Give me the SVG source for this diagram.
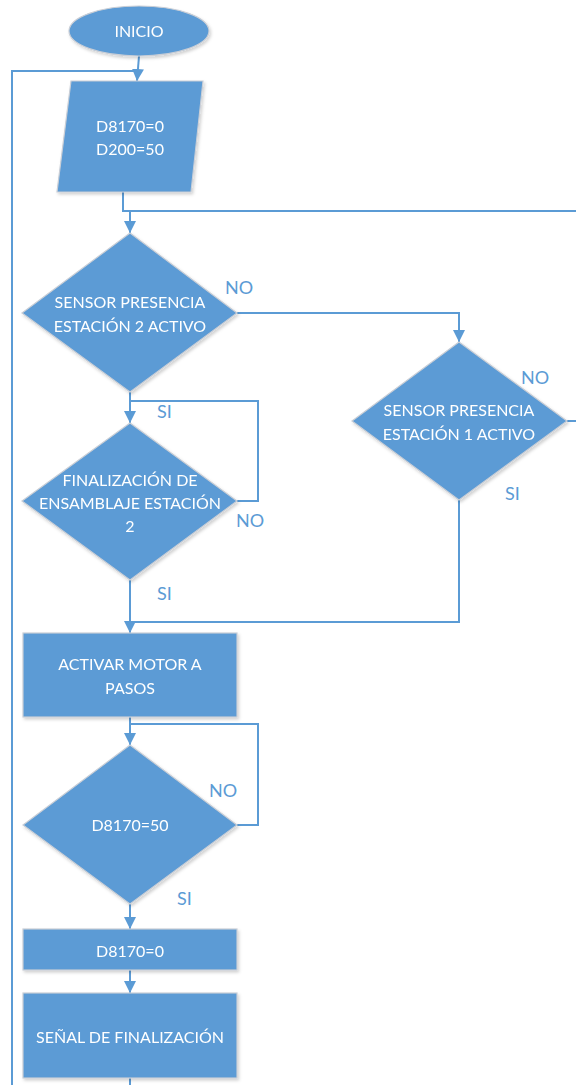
<svg xmlns="http://www.w3.org/2000/svg" width="576" height="1085" viewBox="0 0 576 1085">
<defs>
<style>
.n{fill:#5B9BD5;stroke:#C9CED6;stroke-width:1.2}
.t{fill:#FFFFFF;font-family:Lato,"Open Sans",sans-serif;font-size:16px;text-anchor:middle}
.l{fill:#5B9BD5;font-family:Lato,"Open Sans",sans-serif;font-size:18px}
.c{fill:none;stroke:#5B9BD5;stroke-width:2}
</style>
<marker id="a" viewBox="0 0 12 12" refX="12" refY="6" markerWidth="12" markerHeight="12" markerUnits="userSpaceOnUse" orient="auto">
<path d="M0,0 L12,6 L0,12 z" fill="#5B9BD5"/>
</marker>
<filter id="sh" x="-10%" y="-10%" width="130%" height="130%">
<feDropShadow dx="1.5" dy="2" stdDeviation="1.5" flood-color="#000" flood-opacity="0.18"/>
</filter>
</defs>
<rect width="576" height="1085" fill="#FFFFFF"/>
<g id="connectors">
<path class="c" d="M139,56 L137,81" marker-end="url(#a)"/>
<path class="c" d="M12,1085 L12,71 L137,71"/>
<path class="c" d="M123,192 L123,211 L576,211"/>
<path class="c" d="M130,211 L130,233" marker-end="url(#a)"/>
<path class="c" d="M237,313 L459,313 L459,342" marker-end="url(#a)"/>
<path class="c" d="M567,421 L576,421"/>
<path class="c" d="M130,392 L130,423" marker-end="url(#a)"/>
<path class="c" d="M130,401 L258,401 L258,501 L237,501"/>
<path class="c" d="M459,500 L459,622 L130,622"/>
<path class="c" d="M130,580 L130,633" marker-end="url(#a)"/>
<path class="c" d="M130,717 L130,745" marker-end="url(#a)"/>
<path class="c" d="M130,724 L258,724 L258,825 L237,825"/>
<path class="c" d="M130,904 L130,929" marker-end="url(#a)"/>
<path class="c" d="M130,970 L130,993" marker-end="url(#a)"/>
<path class="c" d="M130,1078 L130,1085"/>
</g>
<g id="labels">
<text class="l" x="225" y="294">NO</text>
<text class="l" x="521" y="384">NO</text>
<text class="l" x="505" y="500">SI</text>
<text class="l" x="157" y="418">SI</text>
<text class="l" x="236" y="527">NO</text>
<text class="l" x="157" y="600">SI</text>
<text class="l" x="209" y="797">NO</text>
<text class="l" x="177" y="905">SI</text>
</g>
<g id="inicio" filter="url(#sh)">
<ellipse class="n" cx="139" cy="31" rx="70" ry="25"/>
<text class="t" x="139" y="37">INICIO</text>
</g>
<g id="datos" filter="url(#sh)">
<polygon class="n" points="71,81 203,81 191,192 57,192"/>
<text class="t" x="130" y="132">D8170=0</text>
<text class="t" x="130" y="155">D200=50</text>
</g>
<g id="sensor2" filter="url(#sh)">
<polygon class="n" points="130,233 237,313 130,392 22,313"/>
<text class="t" x="130" y="308">SENSOR PRESENCIA</text>
<text class="t" x="130" y="332">ESTACIÓN 2 ACTIVO</text>
</g>
<g id="sensor1" filter="url(#sh)">
<polygon class="n" points="459,342 567,421 459,500 352,421"/>
<text class="t" x="459" y="416">SENSOR PRESENCIA</text>
<text class="t" x="459" y="440">ESTACIÓN 1 ACTIVO</text>
</g>
<g id="finalizacion" filter="url(#sh)">
<polygon class="n" points="130,423 237,501 130,580 22,501"/>
<text class="t" x="130" y="486">FINALIZACIÓN DE</text>
<text class="t" x="130" y="509">ENSAMBLAJE ESTACIÓN</text>
<text class="t" x="130" y="532">2</text>
</g>
<g id="motor" filter="url(#sh)">
<rect class="n" x="23" y="633" width="214" height="84"/>
<text class="t" x="130" y="670">ACTIVAR MOTOR A</text>
<text class="t" x="130" y="694">PASOS</text>
</g>
<g id="d8170_50" filter="url(#sh)">
<polygon class="n" points="130,745 237,825 130,904 23,825"/>
<text class="t" x="130" y="831">D8170=50</text>
</g>
<g id="d8170_0" filter="url(#sh)">
<rect class="n" x="23" y="929" width="214" height="41"/>
<text class="t" x="130" y="957">D8170=0</text>
</g>
<g id="senal" filter="url(#sh)">
<rect class="n" x="23" y="993" width="214" height="85"/>
<text class="t" x="130" y="1043">SEÑAL DE FINALIZACIÓN</text>
</g>
</svg>
